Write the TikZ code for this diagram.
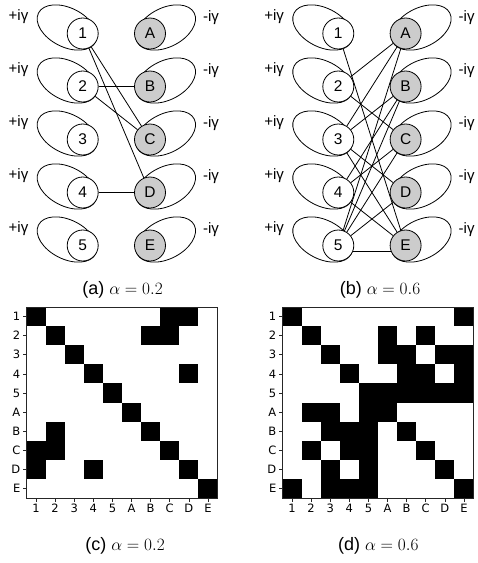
\documentclass[tikz,border=0pt]{standalone}
\usepackage{fontspec}
\setmainfont{Liberation Sans}
\newfontfamily\tickfont{DejaVu Sans}
\pgfdeclarelayer{loops}
\pgfdeclarelayer{edges}
\pgfsetlayers{loops,edges,main}
\tikzset{
  vnode/.style={circle,draw,line width=0.8pt,minimum size=31pt,inner sep=0pt,fill=white,font=\fontsize{15.5}{16}\selectfont},
  lnode/.style={vnode,fill=gray!40},
  loopline/.style={line width=0.8pt},
  edgeline/.style={line width=0.8pt},
  gam/.style={font=\fontsize{15}{16}\selectfont,inner sep=0pt},
  captext/.style={font=\fontsize{18}{20}\selectfont,anchor=base,inner sep=0pt},
  ticklab/.style={font=\tickfont\fontsize{11.5}{12}\selectfont,inner sep=0pt},
  frameline/.style={line width=0.8pt,black!85},
  tickline/.style={line width=0.6pt,black!85},
}
\begin{document}
\begin{tikzpicture}[x=1pt,y=-1pt]
\useasboundingbox (0,0) rectangle (478,563);
% ---------- graphs ----------
\foreach \p/\ox in {a/0,b/255.6}{
  \foreach \i/\R in {1/A,2/B,3/C,4/D,5/E}{
    \pgfmathsetmacro\yy{33.5+53*(\i-1)}
    \begin{pgfonlayer}{loops}
      \draw[loopline,shift={(\ox+67,\yy-6)},rotate=-27] (0,0) ellipse [x radius=32,y radius=19.5];
      \draw[loopline,shift={(\ox+165.7,\yy-6)},rotate=27] (0,0) ellipse [x radius=32,y radius=19.5];
    \end{pgfonlayer}
    \node[vnode] (\p\i) at (\ox+82.7,\yy) {\i};
    \node[lnode] (\p\R) at (\ox+150,\yy) {\R};
    \node[gam] (\p p\i) at (\ox+18.5,\yy-16.5) {+iγ};
    \node[gam] (\p m\i) at (\ox+211,\yy-15.5) {-iγ};
  }
}
\begin{pgfonlayer}{edges}
  \foreach \u/\v in {1/C,1/D,2/B,2/C,4/D}{\draw[edgeline] (a\u) -- (a\v);}
  \foreach \u/\v in {1/E,2/A,2/C,3/A,3/B,3/D,3/E,4/B,4/C,4/E,5/A,5/B,5/C,5/D}{\draw[edgeline] (b\u) -- (b\v);}
  \draw[edgeline] (b5.-20) -- (bE.-160);
\end{pgfonlayer}
\node[captext] (capa) at (122.5,294.5) {(a) $\alpha = 0.2$};
\node[captext] (capb) at (380,294.5) {(b) $\alpha = 0.6$};
% ---------- matrices ----------
\def\cs{19.1}
% (c)
\foreach \r/\cols in {1/{1,8,9},2/{2,7,8},3/{3},4/{4,9},5/{5},6/{6},7/{2,7},8/{1,2,8},9/{1,4,9},10/{10}}{
  \foreach \c in \cols{
    \fill[black] (26.5+\cs*\c-\cs,307+\cs*\r-\cs) rectangle +(\cs,\cs);
  }
}
% (d)
\foreach \r/\cols in {1/{1,10},2/{2,6,8},3/{3,6,7,9,10},4/{4,7,8,10},5/{5,6,7,8,9,10},6/{2,3,5,6},7/{3,4,5,7},8/{2,4,5,8},9/{3,5,9},10/{1,3,4,5,10}}{
  \foreach \c in \cols{
    \fill[black] (282.5+\cs*\c-\cs,307+\cs*\r-\cs) rectangle +(\cs,\cs);
  }
}
\foreach \ox/\q in {26.5/c,282.5/d}{
  \draw[frameline] (\ox,307) rectangle +(10*\cs,10*\cs);
  \foreach \k/\t in {1/1,2/2,3/3,4/4,5/5,6/A,7/B,8/C,9/D,10/E}{
    \draw[tickline] (\ox,307+\cs*\k-0.5*\cs) -- +(-3.5,0);
    \draw[tickline] (\ox+\cs*\k-0.5*\cs,307+10*\cs) -- +(0,3.5);
    \node[ticklab,anchor=east] (\q r\k) at (\ox-6,307+\cs*\k-0.5*\cs) {\t};
    \node[ticklab,anchor=north] (\q c\k) at (\ox+\cs*\k-0.5*\cs,503.5) {\t};
  }
}
\node[captext] (capc) at (125,550) {(c) $\alpha = 0.2$};
\node[captext] (capd) at (378.3,550) {(d) $\alpha = 0.6$};
\end{tikzpicture}
\end{document}
